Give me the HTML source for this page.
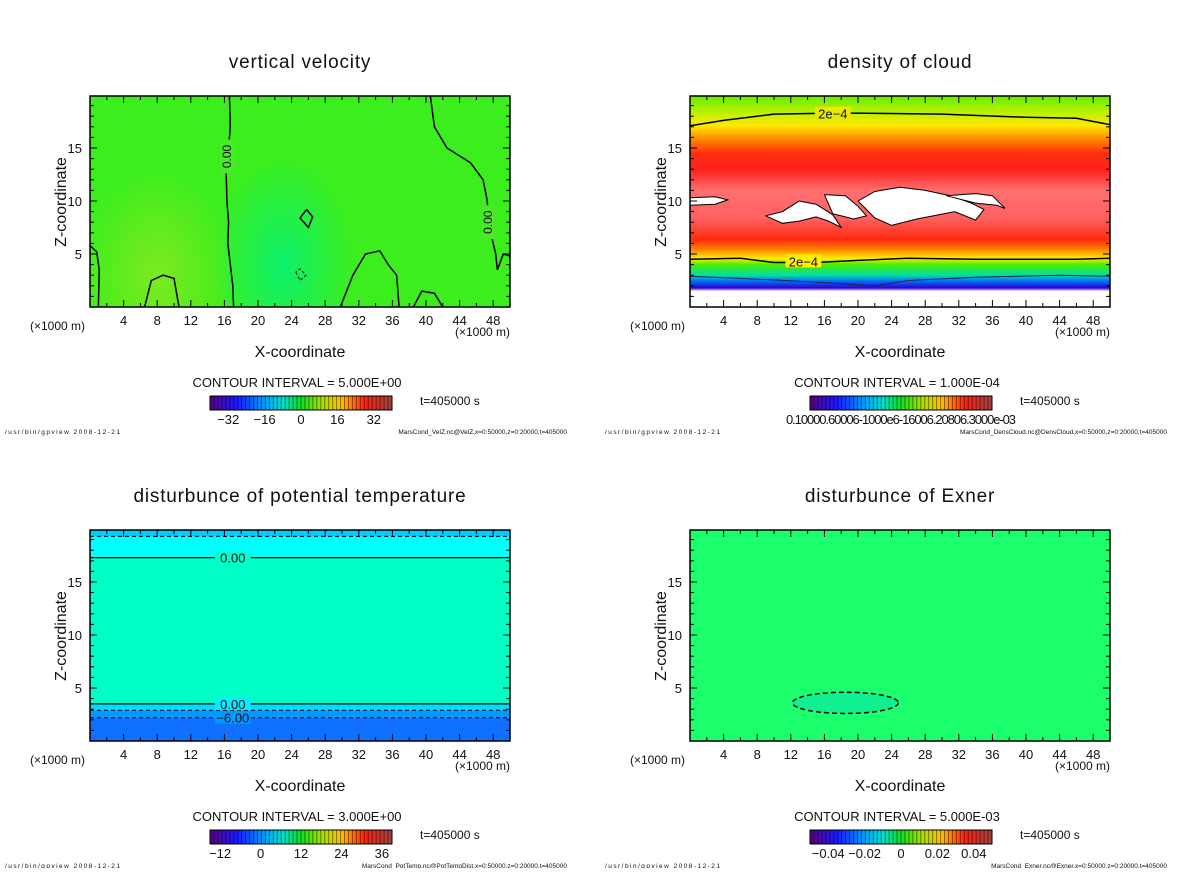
<!DOCTYPE html>
<html><head><meta charset="utf-8"><style>
html,body{margin:0;padding:0;background:#fff}
svg text{font-family:"Liberation Sans",sans-serif;fill:#111}
</style></head><body>
<svg id="root" width="1200" height="868" viewBox="0 0 1200 868" xmlns="http://www.w3.org/2000/svg">
<defs>
<linearGradient id="rainbow" x1="0" x2="1" y1="0" y2="0">
<stop offset="0" stop-color="#5a0080"/><stop offset="0.15" stop-color="#1a1aff"/><stop offset="0.3" stop-color="#00a0ff"/><stop offset="0.4" stop-color="#00e0d0"/><stop offset="0.5" stop-color="#10e020"/><stop offset="0.62" stop-color="#b0e000"/><stop offset="0.72" stop-color="#ffc000"/><stop offset="0.85" stop-color="#ff2010"/><stop offset="1" stop-color="#a04040"/>
</linearGradient>
<linearGradient id="cloudgrad" x1="0" x2="0" y1="0" y2="1">
<stop offset="0" stop-color="#66ee00"/><stop offset="0.09" stop-color="#c8f000"/><stop offset="0.14" stop-color="#ffe800"/><stop offset="0.2" stop-color="#ff9000"/><stop offset="0.27" stop-color="#ff3010"/><stop offset="0.35" stop-color="#ff2020"/><stop offset="0.45" stop-color="#ff7070"/><stop offset="0.58" stop-color="#ff6060"/><stop offset="0.68" stop-color="#ff2a10"/><stop offset="0.73" stop-color="#ff8800"/><stop offset="0.77" stop-color="#ffee00"/><stop offset="0.8" stop-color="#44ee00"/><stop offset="0.85" stop-color="#00ddaa"/><stop offset="0.88" stop-color="#0066ff"/><stop offset="0.91" stop-color="#3300cc"/><stop offset="0.925" stop-color="#ffffff"/><stop offset="1" stop-color="#ffffff"/>
</linearGradient>
<radialGradient id="velblob" cx="0.5" cy="0.6" r="0.5"><stop offset="0" stop-color="#8ee820" stop-opacity="0.8"/><stop offset="1" stop-color="#8ee820" stop-opacity="0"/></radialGradient>
<radialGradient id="velblob2" cx="0.5" cy="0.6" r="0.5"><stop offset="0" stop-color="#00f080" stop-opacity="0.8"/><stop offset="1" stop-color="#00f080" stop-opacity="0"/></radialGradient>
<clipPath id="clip1"><rect x="90" y="96" width="420" height="211"/></clipPath>
<clipPath id="clip2"><rect x="690" y="96" width="420" height="211"/></clipPath>
</defs>
</svg>
<script>
// ---- data ----
const xTicks=[4,8,12,16,20,24,28,32,36,40,44,48];
const zTicks=[5,10,15];
const panelTitles=["vertical velocity","density of cloud","disturbunce of potential temperature","disturbunce of Exner"];
const contourIntervals=["5.000E+00","1.000E-04","3.000E+00","5.000E-03"];
const cbarLabels=[["\u221232","\u221216","0","16","32"],["0.10000.60006-1000e6-16006.20806.3000e-03"],["\u221212","0","12","24","36"],["\u22120.04","\u22120.02","0","0.02","0.04"]];
const cbarValues=[[-32,-16,0,16,32],[0],[-12,0,12,24,36],[-0.04,-0.02,0,0.02,0.04]];
const cbarRanges=[[-40,40],[0,1],[-15,39],[-0.05,0.05]];
const footers=["MarsCond_VelZ.nc@VelZ,x=0:50000,z=0:20000,t=405000","MarsCond_DensCloud.nc@DensCloud,x=0:50000,z=0:20000,t=405000","MarsCond_PotTemp.nc@PotTempDist,x=0:50000,z=0:20000,t=405000","MarsCond_Exner.nc@Exner,x=0:50000,z=0:20000,t=405000"];
// contour lines (x km, z km)
const velZero1=[[16.6,20],[16.7,17],[16.5,15],[16.2,13],[16.3,10],[16.5,8],[16.4,6],[16.7,4],[17,2],[17.1,0]];
const velZero2=[[40.5,20],[41,17],[42.5,15],[45.3,13.6],[46.8,12],[47.3,10],[47.4,8],[48.3,5],[48.5,3.5],[49.2,5],[50,4.8]];
const velLow1=[[0,5.8],[0.8,5.2],[1.1,3.5],[1,0]];
const velLow2=[[6.5,0],[7.3,2.5],[8.7,3],[10,2.7],[10.6,0]];
const velLow3=[[29.8,0],[31.3,3],[32.8,5],[34.5,5.3],[35.5,4],[36.5,3],[36.8,0]];
const velLow4=[[38.5,0],[39.5,1.5],[41,1.3],[42,0]];
const velBlob=[[25.8,9.2],[26.5,8.5],[26,7.5],[25,8.4],[25.8,9.2]];
const velDash=[[24.5,3.3],[25,2.5],[25.7,3],[25,3.6],[24.5,3.3]];
const cloudUpper=[[0,17.1],[4,17.6],[10,18.2],[18,18.3],[30,18.2],[40,17.9],[46,17.8],[50,17.2]];
const cloudLower=[[0,4.5],[6,4.6],[10,4.2],[15,4.2],[20,4.4],[26,4.6],[34,4.5],[40,4.5],[46,4.5],[50,4.6]];
const cloudBlue=[[0,2.9],[6,2.7],[14,2.4],[22,2.0],[26,2.5],[34,2.8],[44,3.0],[50,2.9]];
const whiteBlobs=[
[[0,10.3],[3,10.4],[4.5,10.1],[3,9.7],[0,9.6]],
[[9,8.6],[11,9],[13,10],[15,9.7],[17,8.7],[18,7.5],[16.5,8.1],[15,8.5],[13,8.1],[11,7.9]],
[[16,10.6],[18.5,10.5],[20,9.5],[21,8.6],[19.5,8.3],[17,8.8]],
[[20,10],[22,10.9],[25,11.3],[28,11],[31,10.5],[33.5,9.8],[35,9.2],[34,8.2],[31.5,9],[29,8.6],[27,8.3],[24,7.7],[22,8.4]],
[[30.5,10.5],[34,10.7],[36,10.5],[37.5,9.3],[36.5,9.6],[34,9.8]]];
const thetaLevels=[19.3,17.3,3.5,2.9,2.2];
const thetaStyles=["dash","solid","solid","dash","dash"];
const thetaBands=[[19.9,19.3,"#00ccff"],[19.3,17.3,"#00ffff"],[17.3,3.5,"#00ffc4"],[3.5,2.9,"#00ddff"],[2.9,2.2,"#0099ff"],[2.2,-0.2,"#1070ff"]];
const exnerCenter=[18.5,3.6];
const exnerRadii=[6.3,1.0];

// ---- helpers ----
const NS="http://www.w3.org/2000/svg";
const root=document.getElementById('root');
function el(tag,attrs,parent,text){const e=document.createElementNS(NS,tag);for(const k in attrs)e.setAttribute(k,attrs[k]);if(text!==undefined)e.textContent=text;(parent||root).appendChild(e);return e;}
const PW=420,PH=211;
function panel(i){
 const ox=(i%2)*600, oy=Math.floor(i/2)*434;
 const L=90+ox,T=96+oy,R=L+PW,B=T+PH;
 const sx=v=>L+8.4*v;
 const sz=v=>B-10.6*v;
 const g=el('g',{},root);
 
 
 return {ox,oy,L,T,R,B,sx,sz,g};
}
function poly(P,pts,attrs,name,parent){
 const d=pts.map((p,k)=>(k?'L':'M')+P.sx(p[0]).toFixed(1)+','+P.sz(p[1]).toFixed(1)).join('');
 const e=el('path',Object.assign({d:d,fill:'none',stroke:'#000','stroke-width':1.5},attrs),parent||P.g);
 
 
 return e;
}
function frame(P,i){
 const g=P.g;
 const fr=el('rect',{x:P.L,y:P.T,width:PW,height:PH,fill:'none',stroke:'#000','stroke-width':1.5},g);
 
 
 for(let v=0;v<=50;v+=2){const x=P.sx(v);if(x<P.L||x>P.R)continue;const len=v%4===0?7:4;
  el('line',{x1:x,y1:P.B,x2:x,y2:P.B-len,stroke:'#000'},g);el('line',{x1:x,y1:P.T,x2:x,y2:P.T+len,stroke:'#000'},g);}
 for(let v=1;v<20;v++){const y=P.sz(v);const len=v%5===0?7:4;
  el('line',{x1:P.L,y1:y,x2:P.L+len,y2:y,stroke:'#000'},g);el('line',{x1:P.R,y1:y,x2:P.R-len,y2:y,stroke:'#000'},g);}
 xTicks.forEach(v=>{const t=el('text',{x:P.sx(v),y:P.B+18,'font-size':13,'text-anchor':'middle'},g,String(v));
  });
 zTicks.forEach(v=>{const t=el('text',{x:P.L-8,y:P.sz(v)+5,'font-size':13,'text-anchor':'end'},g,String(v));
  });
 let t=el('text',{x:P.L+210,y:P.oy+68,'font-size':19,'text-anchor':'middle','letter-spacing':'0.8'},g,panelTitles[i]);
 
 t=el('text',{x:P.L+210,y:P.oy+357,'font-size':16,'text-anchor':'middle'},g,'X-coordinate');
 
 t=el('text',{x:0,y:0,'font-size':16,'text-anchor':'middle',transform:'translate('+(P.ox+66)+','+(P.oy+202)+') rotate(-90)'},g,'Z-coordinate');
 
 t=el('text',{x:P.ox+30,y:P.oy+330,'font-size':12},g,'(\u00d71000 m)');
 
 t=el('text',{x:P.ox+455,y:P.oy+336,'font-size':12},g,'(\u00d71000 m)');
 
 t=el('text',{x:P.ox+297,y:P.oy+387,'font-size':13,'text-anchor':'middle'},g,'CONTOUR INTERVAL = '+contourIntervals[i]);
 
 const cx=P.ox+210,cw=182,cy=P.oy+396,ch=14;
 const cb=el('rect',{x:cx,y:cy,width:cw,height:ch,fill:'url(#rainbow)',stroke:'#000','stroke-width':1},g);
 
 for(let k=1;k<46;k++){el('line',{x1:cx+k*cw/46,y1:cy,x2:cx+k*cw/46,y2:cy+ch,stroke:'rgba(0,0,0,0.45)','stroke-width':1},g);}
 const rng=cbarRanges[i];
 if(i===1){
  t=el('text',{x:cx+91,y:cy+28,'font-size':13,'text-anchor':'middle','textLength':230},g,cbarLabels[i][0]);
  
 } else cbarValues[i].forEach((v,k)=>{
  t=el('text',{x:cx+(v-rng[0])/(rng[1]-rng[0])*cw,y:cy+28,'font-size':13,'text-anchor':'middle'},g,cbarLabels[i][k]);
  });
 t=el('text',{x:P.ox+420,y:P.oy+405,'font-size':12,'fill':'#333'},g,'t=405000 s');
 
 t=el('text',{x:P.ox+5,y:P.oy+434,'font-size':6.5,'textLength':115},g,'/usr/bin/gpview   2008-12-21');
 
 t=el('text',{x:P.ox+567,y:P.oy+434,'font-size':6.5,'text-anchor':'end'},g,footers[i]);
 
}
// ---- panel 1 ----
(function(){const P=panel(0);
 const c=el('g',{'clip-path':'url(#clip1)'},P.g);
 let r=el('rect',{x:P.L,y:P.T,width:PW,height:PH,fill:'#3cee1e'},c);
 el('ellipse',{cx:P.sx(8),cy:P.sz(5),rx:80,ry:110,fill:'url(#velblob)'},c);
 el('ellipse',{cx:P.sx(23),cy:P.sz(6),rx:70,ry:110,fill:'url(#velblob2)'},c);
 poly(P,velZero1,{},'contour-zero-left',c);poly(P,velZero2,{},'contour-zero-right',c);
 [velLow1,velLow2,velLow3,velLow4,velBlob].forEach(l=>poly(P,l,{},'contour-line',c));
 poly(P,velDash,{'stroke-dasharray':'3,2','stroke-width':1},'contour-negative',c);
 [[16.3,14.2],[47.4,8]].forEach(([x,z])=>{
  el('rect',{x:P.sx(x)-7,y:P.sz(z)-17,width:14,height:34,fill:'#4ce82a'},c);
  const t=el('text',{x:0,y:0,'font-size':12,'text-anchor':'middle',transform:'translate('+(P.sx(x)+4)+','+P.sz(z)+') rotate(-90)'},c,'0.00');
  });
 frame(P,0);})();
// ---- panel 2 ----
(function(){const P=panel(1);
 const c=el('g',{'clip-path':'url(#clip2)'},P.g);
 let r=el('rect',{x:P.L,y:P.T,width:PW,height:PH,fill:'url(#cloudgrad)'},c);
 whiteBlobs.forEach(b=>{poly(P,b.concat([b[0]]),{fill:'#fff','stroke-width':1},'cloud-white-region',c);});
 poly(P,cloudUpper,{},'contour-2e-4-upper',c);poly(P,cloudLower,{},'contour-2e-4-lower',c);
 poly(P,cloudBlue,{'stroke-width':1,stroke:'#224'},'contour-low',c);
 [[cloudUpper,17,18.25,'#e8e800'],[cloudLower,13.5,4.3,'#ffee00']].forEach(([l,x,z,col])=>{
  el('rect',{x:P.sx(x)-18,y:P.sz(z)-7,width:36,height:13,fill:col},c);
  const t=el('text',{x:P.sx(x),y:P.sz(z)+5,'font-size':13,'text-anchor':'middle'},c,'2e\u22124');
  });
 frame(P,1);})();
// ---- panel 3 ----
(function(){const P=panel(2);
 thetaBands.forEach(b=>{const y1=Math.max(P.T,P.sz(b[0])),y2=Math.min(P.B,P.sz(b[1]));const r=el('rect',{x:P.L,y:y1,width:PW,height:y2-y1,fill:b[2]},P.g);
  });
 thetaLevels.forEach((z,k)=>poly(P,[[0,z],[50,z]],thetaStyles[k]==='dash'?{'stroke-dasharray':'4,3','stroke-width':1}:{'stroke-width':1.3},'theta-contour'));
 [[17.3,'0.00','#00ffd0'],[3.5,'0.00','#00eeff'],[2.2,'\u22126.00','#0099ff']].forEach(([z,s,c])=>{
  el('rect',{x:P.sx(17)-18,y:P.sz(z)-6,width:36,height:12,fill:c},P.g);
  const t=el('text',{x:P.sx(17),y:P.sz(z)+5,'font-size':13,'text-anchor':'middle'},P.g,s);
  });
 frame(P,2);})();
// ---- panel 4 ----
(function(){const P=panel(3);
 let r=el('rect',{x:P.L,y:P.T,width:PW,height:PH,fill:'#1cff6c'},P.g);
 const e=el('ellipse',{cx:P.sx(exnerCenter[0]),cy:P.sz(exnerCenter[1]),rx:exnerRadii[0]*8.4,ry:exnerRadii[1]*10.6,fill:'#10f090',stroke:'#000','stroke-width':1.5,'stroke-dasharray':'5,3'},P.g);
 
 frame(P,3);})();
</script>
</body></html>
